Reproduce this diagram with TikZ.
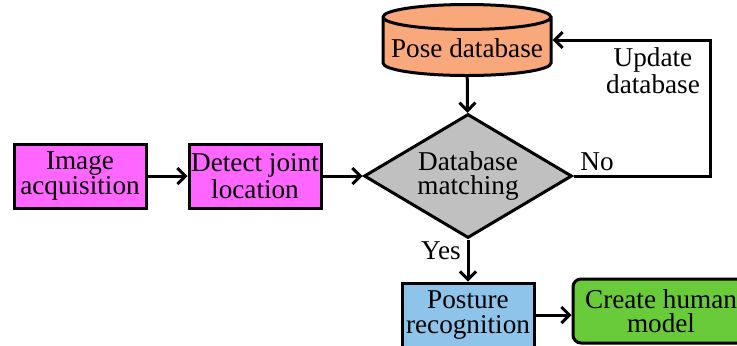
\documentclass[tikz,border=0pt]{standalone}
\usepackage{fontspec}
\setmainfont{Liberation Serif}
\usepackage{tikz}
\usetikzlibrary{shapes.geometric,arrows.meta}
\definecolor{procpink}{RGB}{255,102,255}
\definecolor{dbaseorange}{RGB}{248,168,122}
\definecolor{matchgray}{RGB}{192,192,192}
\definecolor{postblue}{RGB}{142,196,234}
\definecolor{modelgreen}{RGB}{106,203,58}
\begin{document}
\begin{tikzpicture}[x=0.5pt,y=-0.5pt,
    every node/.style={font=\fontsize{13.6}{12.3}\selectfont,align=center,line width=1.5pt},
    procbox/.style={draw,rectangle,minimum width=66pt,minimum height=32pt,inner sep=1pt},
    decide/.style={draw,diamond,shape aspect=1.65,fill=matchgray,minimum width=104pt,minimum height=62pt,inner sep=0pt},
    dbase/.style={draw,cylinder,shape border rotate=90,aspect=0.16,fill=dbaseorange,
        minimum width=84pt,minimum height=35.5pt,inner sep=1pt},
    flow/.style={-{Straight Barb[length=4pt,width=8pt]},line width=1.5pt}]
            \clip (0,0) rectangle (737,345);
            \node[procbox,fill=procpink] (acq) at (80,176) {Image\\acquisition};
            \node[procbox,fill=procpink] (joint) at (255,176) {Detect joint\\location};
            \node[decide] (match) at (468,176) {Database\\matching};
            \node[dbase,anchor=shape center] (pose) at (467,40) {Pose database};
            \node[procbox,fill=postblue] (posture) at (468,315) {Posture\\recognition};
            \node[procbox,fill=modelgreen,rounded corners=4pt,minimum width=88pt] (human) at (661,311) {Create human\\model};

            \node (no) at (597,162) {No};
            \node (update) at (653,71) {Update\\database};
            \node (yes) at (441,251) {Yes};

            \draw[flow] (acq) -- (joint);
            \draw[flow] (joint) -- (match);
            \draw[flow] (pose) -- (match);
            \draw[flow] (match) -- (posture);
            \draw[flow] (posture.east) -- (posture.east -| human.west);
            \draw[flow] (match.east) -- ++(137,0) |- (pose.east |- pose.shape center);
          \end{tikzpicture}
\end{document}
